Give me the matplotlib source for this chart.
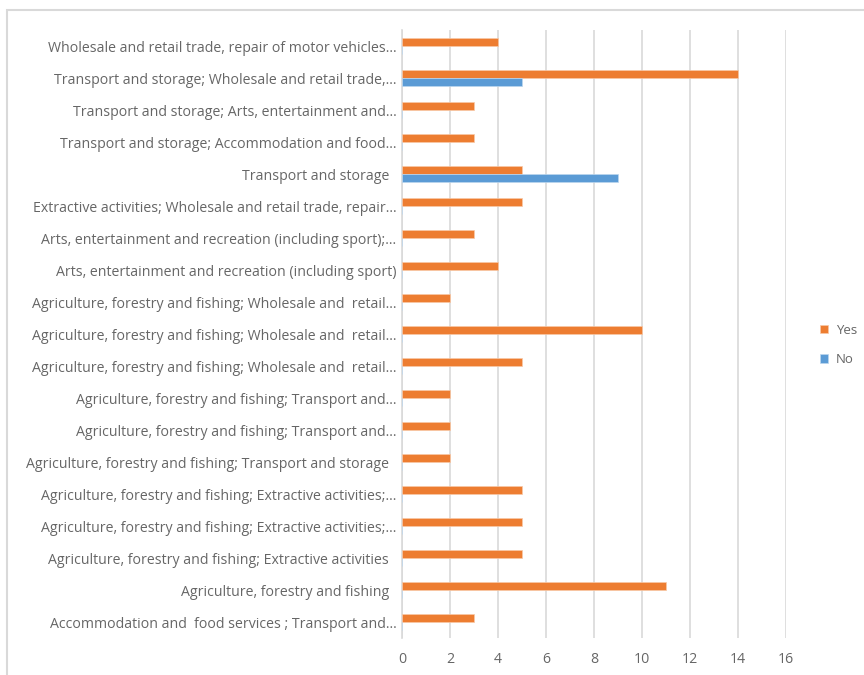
import numpy as np
import matplotlib.pyplot as plt
from matplotlib.patches import Rectangle

plt.rcParams['font.family'] = ['Open Sans', 'DejaVu Sans']

# categories listed bottom to top
categories = [
    "Accommodation and  food services ; Transport and...",
    "Agriculture, forestry and fishing  ",
    "Agriculture, forestry and fishing; Extractive activities  ",
    "Agriculture, forestry and fishing; Extractive activities;...",
    "Agriculture, forestry and fishing; Extractive activities;...",
    "Agriculture, forestry and fishing; Transport and storage  ",
    "Agriculture, forestry and fishing; Transport and...",
    "Agriculture, forestry and fishing; Transport and...",
    "Agriculture, forestry and fishing; Wholesale and  retail...",
    "Agriculture, forestry and fishing; Wholesale and  retail...",
    "Agriculture, forestry and fishing; Wholesale and  retail...",
    "Arts, entertainment and recreation (including sport)",
    "Arts, entertainment and recreation (including sport);...",
    "Extractive activities; Wholesale and retail trade, repair...",
    "Transport and storage  ",
    "Transport and storage; Accommodation and food...",
    "Transport and storage; Arts, entertainment and...",
    "Transport and storage; Wholesale and retail trade,...",
    "Wholesale and retail trade, repair of motor vehicles...",
]
yes_vals = [3, 11, 5, 5, 5, 2, 2, 2, 5, 10, 2, 4, 3, 5, 5, 3, 3, 14, 4]
no_vals = [0, 0, 0, 0, 0, 0, 0, 0, 0, 0, 0, 0, 0, 0, 9, 0, 0, 5, 0]
x_ticks = [0, 2, 4, 6, 8, 10, 12, 14, 16]

orange = "#ED7D31"
blue = "#5B9BD5"
text_c = "#666666"
grid_c = "#D9D9D9"

fig = plt.figure(figsize=(8.64, 6.75), dpi=100)
ax = fig.add_axes([402 / 864, 1 - 638 / 675, (786 - 402) / 864, (638 - 30) / 675])

y = np.arange(len(categories))
h = 0.25
ax.barh(y + h / 2, yes_vals, height=h, color=orange, edgecolor="#F8C9A8",
        linewidth=0.5, label="Yes", zorder=3)
ax.barh(y - h / 2, no_vals, height=h, color=blue, edgecolor="#BDD7EE",
        linewidth=0.5, label="No", zorder=3)

ax.set_xlim(0, 16)
ax.set_ylim(-0.5, len(categories) - 0.5)
ax.set_xticks(x_ticks)
ax.set_yticks(y)
ax.set_yticklabels(categories)
ax.tick_params(axis="both", length=0, colors=text_c, labelsize=10.2)
ax.tick_params(axis="y", pad=4)
ax.tick_params(axis="x", pad=10)
ax.xaxis.grid(True, color=grid_c, linewidth=1.2, zorder=0)
for s in ["top", "right", "bottom"]:
    ax.spines[s].set_visible(False)
ax.spines["left"].set_color(grid_c)
ax.spines["left"].set_linewidth(1.2)

fig.legend(loc="center left", bbox_to_anchor=(820 / 864, 1 - 345 / 675),
           frameon=False, fontsize=9.5, labelcolor=text_c, borderpad=0,
           borderaxespad=0, handlelength=0.6, handleheight=0.6,
           handletextpad=0.6, labelspacing=1.25)

# outer chart border
fig.patches.append(Rectangle((7 / 864, -0.1), 1.1, 1 - 10 / 675 + 0.1,
                             transform=fig.transFigure, fill=False,
                             edgecolor=grid_c, linewidth=1.5))

fig.savefig("out.png", dpi=100)
